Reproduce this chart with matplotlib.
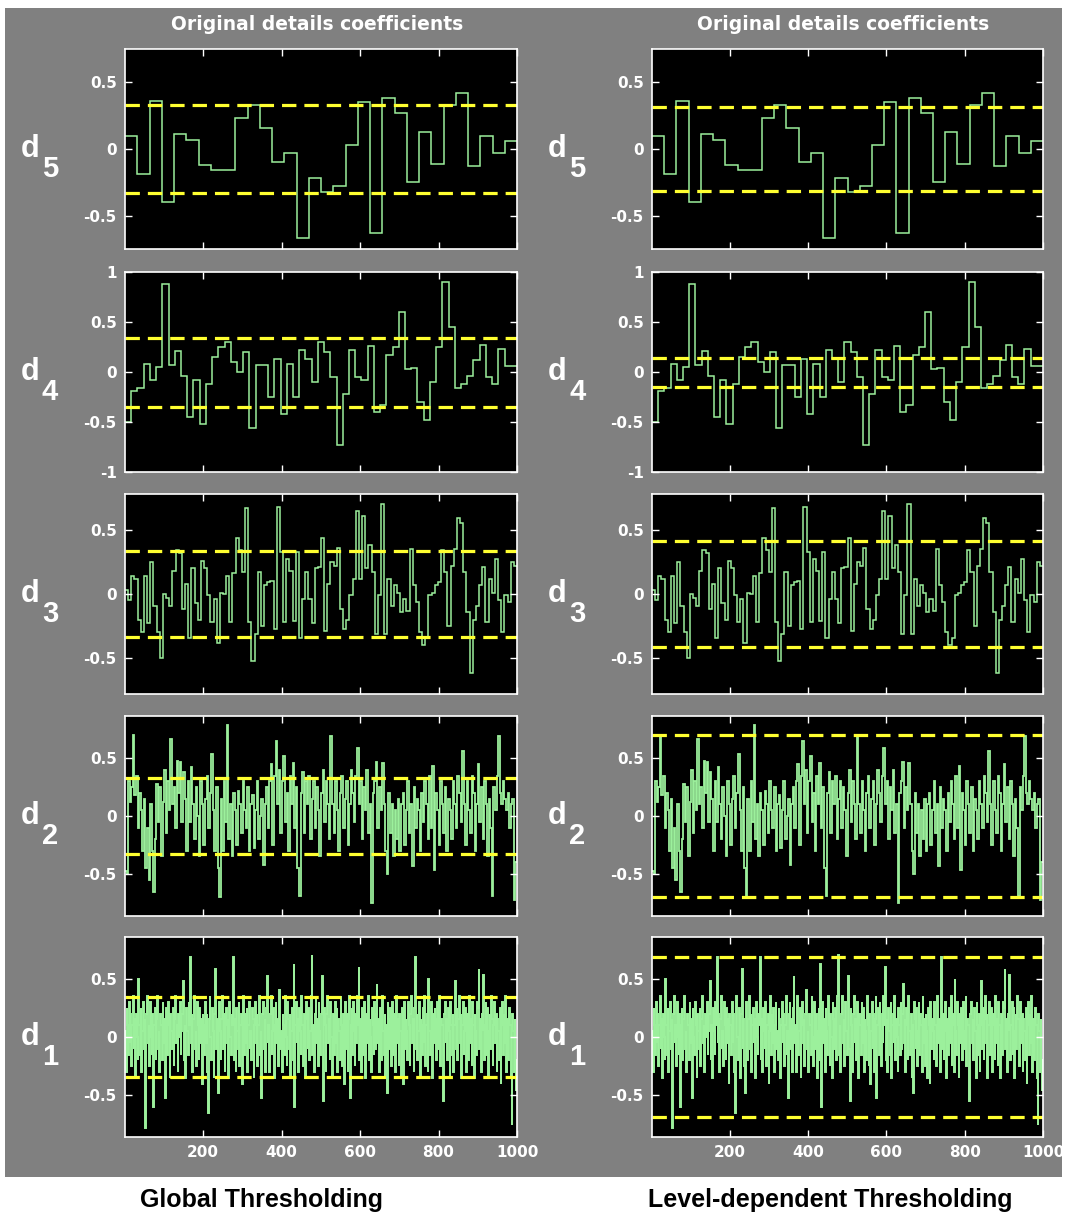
import numpy as np
import matplotlib
matplotlib.use("Agg")
import matplotlib.pyplot as plt
from matplotlib.patches import Rectangle

# detail coefficients (same data in both columns)
d5 = [0.1, -0.19, 0.36, -0.40, 0.11, 0.07, -0.12, -0.16, -0.16, 0.23, 0.33, 0.16,
      -0.1, -0.03, -0.67, -0.22, -0.32, -0.28, 0.03, 0.35, -0.63, 0.38, 0.27, -0.25,
      0.13, -0.11, 0.33, 0.42, -0.13, 0.1, -0.03, 0.06]

d4 = [-0.5, -0.19, -0.16, 0.08, -0.08, 0.05, 0.88, 0.07, 0.21, -0.04, -0.45, -0.08,
      -0.52, -0.12, 0.15, 0.25, 0.3, 0.1, 0.0, 0.2, -0.56, 0.07, 0.07, -0.25, 0.13,
      -0.42, 0.08, -0.25, 0.22, 0.13, -0.1, 0.3, 0.2, -0.05, -0.73, -0.22, 0.22,
      -0.05, -0.08, 0.26, -0.4, -0.33, 0.17, 0.25, 0.6, 0.03, 0.04, -0.3, -0.48,
      -0.1, 0.25, 0.9, 0.45, -0.16, -0.12, -0.04, 0.12, 0.27, -0.05, -0.12, 0.23,
      0.06, 0.06]

d3 = [0.03, -0.05, 0.14, 0.12, -0.2, -0.3, 0.14, -0.23, 0.25, -0.09, -0.3, -0.5,
      0.0, -0.03, -0.09, 0.18, 0.34, 0.32, -0.12, 0.08, -0.34, 0.2, -0.07, -0.2,
      0.26, 0.2, -0.01, -0.22, -0.04, -0.38, 0.01, 0.0, 0.14, -0.22, 0.16, 0.44,
      0.34, 0.17, 0.67, -0.22, -0.52, -0.31, 0.17, -0.25, 0.07, 0.09, 0.1, -0.27,
      0.68, 0.33, -0.22, 0.27, 0.18, -0.21, 0.33, -0.34, -0.04, 0.17, -0.04, -0.23,
      0.2, 0.21, 0.44, -0.29, 0.08, 0.25,
      0.22, 0.36, -0.12, -0.27, -0.2, -0.01, 0.12, 0.65, 0.12, 0.61, 0.2, 0.38,
      0.17, -0.31, -0.01, 0.7, -0.31, 0.12, -0.09, 0.07, 0.01, -0.14, -0.04, -0.13,
      0.35, 0.07, -0.06, -0.3, -0.4, -0.34, -0.01, 0.01, 0.07, 0.09, 0.34, 0.17,
      -0.25, 0.22, 0.35, 0.59, 0.55, 0.17, -0.14, -0.62, -0.2, -0.09, 0.07, 0.21,
      -0.22, 0.12, 0.01, 0.27, -0.05, -0.3, -0.01, -0.06, 0.25, 0.22]

d2 = [-0.48, -0.5, 0.3, 0.12, 0.25, 0.7, 0.18, 0.35, -0.1, 0.2,
      0.05, -0.3, 0.15, -0.45, -0.1, -0.55, 0.1, -0.3, -0.66, -0.2,
      0.28, -0.05, 0.25, -0.35, 0.12, 0.4, -0.15, 0.3, 0.05, 0.67,
      0.1, 0.25, -0.1, 0.48, 0.2, 0.47, -0.05, 0.38, 0.15, -0.3,
      0.3, -0.05, 0.42, 0.1, -0.2, 0.25, 0.0, -0.35, 0.3, 0.1,
      -0.25, 0.15, 0.35, -0.1, 0.2, 0.54, 0.05, -0.3, 0.25, -0.45,
      -0.7, 0.15, -0.3, 0.3, -0.05, 0.79, -0.2, 0.1, -0.35, 0.2,
      0.05, -0.25, 0.22, 0.1, -0.15, 0.3, 0.05, -0.1, 0.25, -0.3,
      0.1, 0.18, -0.28, 0.05, 0.3, -0.2, 0.0, 0.15, -0.42, 0.1,
      0.25, -0.1, 0.3, 0.45, -0.25, 0.35, 0.65, 0.1, 0.4, -0.15,
      0.3, 0.52, -0.05, 0.2, -0.3, 0.35, 0.1, 0.46, -0.1, 0.25,
      -0.45, -0.69, 0.2, 0.38, -0.15, 0.3, 0.1, 0.35, -0.2, 0.15,
      0.3, -0.1, 0.25, 0.05, -0.35, 0.2, 0.4, -0.05, 0.3, 0.1,
      -0.2, 0.69, 0.1, -0.15, 0.3, 0.05, -0.3, 0.2, 0.35, -0.1,
      0.15, 0.3, -0.25, 0.1, 0.4, 0.2, -0.05, 0.35, 0.59, 0.1,
      0.3, -0.2, 0.25, 0.05, 0.4, -0.15, 0.1, -0.75, 0.2, 0.3,
      0.47, -0.1, 0.25, 0.05, 0.46, 0.1, -0.3, -0.5, 0.2, -0.15,
      0.1, -0.35, 0.05, -0.2, 0.15, -0.3, 0.1, 0.2, -0.25, 0.05,
      0.3, -0.15, 0.1, -0.43, 0.25, -0.1, 0.15, 0.05, -0.3, 0.2,
      -0.05, 0.3, 0.1, -0.2, 0.35, -0.1, 0.43, -0.47, 0.2, 0.05,
      -0.25, 0.3, 0.1, -0.15, 0.25, -0.3, 0.15, 0.05, -0.2, 0.3,
      0.1, -0.1, 0.35, 0.2, -0.05, 0.56, 0.1, -0.25, 0.3, 0.05,
      -0.15, 0.35, 0.2, -0.3, 0.1, 0.45, -0.05, 0.25, -0.2, 0.3,
      0.1, -0.35, 0.15, -0.1, -0.69, 0.25, 0.05, 0.35, 0.69, 0.2,
      0.1, 0.3, 0.15, 0.05, 0.2, -0.1, 0.1, 0.15, -0.73, -0.4]

d1 = [0.05, -0.3, 0.25, 0.1, -0.15, 0.3, -0.05, 0.2, -0.25, 0.1, 0.35, -0.1, 0.15, -0.35, 0.2, 0.0, -0.2, 0.5, 0.1, -0.15,
      0.25, -0.3, 0.05, 0.3, -0.1, 0.15, -0.78, 0.2, 0.35, -0.05, 0.1, -0.25, 0.3, 0.0, -0.15, 0.2, -0.6, 0.1, 0.25, -0.2,
      0.15, 0.35, -0.1, 0.05, -0.3, 0.2, 0.1, -0.2, 0.3, -0.05, 0.15, -0.52, 0.25, 0.0, -0.15, 0.3, 0.1, -0.35, 0.2, 0.05,
      -0.1, 0.25, -0.25, 0.15, 0.35, -0.05, 0.1, -0.3, 0.2, 0.0, 0.3, -0.15, 0.05, 0.2, 0.48, -0.2, 0.1, -0.35, 0.25, 0.05,
      -0.15, 0.3, 0.1, 0.68, -0.05, 0.2, -0.3, 0.15, 0.35, -0.1, 0.05, -0.25, 0.3, 0.1, -0.2, 0.25, -0.05, 0.15, -0.4, 0.2,
      0.1, -0.15, 0.3, -0.05, 0.2, -0.3, -0.65, 0.15, 0.35, 0.0, -0.2, 0.25, 0.05, -0.35, 0.2, 0.58, -0.1, 0.15, -0.25, -0.48,
      0.3, 0.05, -0.2, 0.15, 0.35, -0.1, 0.2, -0.3, 0.1, 0.25, -0.05, 0.15, -0.35, 0.3, 0.0, -0.15, 0.2, 0.1, 0.68, -0.2,
      0.15, -0.3, 0.25, 0.05, -0.1, 0.3, -0.25, 0.1, 0.2, -0.4, 0.05, 0.35, -0.15, 0.2, -0.05, 0.25, -0.3, 0.1, 0.3, -0.1,
      0.05, -0.2, 0.25, 0.15, -0.35, 0.1, 0.3, -0.05, 0.2, -0.25, 0.1, 0.35, -0.15, 0.05, -0.52, 0.2, 0.3, -0.1, 0.15, -0.3,
      0.25, 0.52, -0.05, 0.1, -0.3, 0.2, 0.35, -0.15, 0.05, 0.25, -0.35, 0.1, 0.3, -0.05, 0.15, -0.25, 0.2, 0.4, -0.1, 0.05,
      -0.3, 0.2, 0.1, -0.15, 0.35, 0.0, -0.25, 0.3, 0.15, -0.1, 0.2, -0.35, 0.05, 0.25, -0.2, 0.62, -0.6, 0.1, 0.3, -0.05,
      0.15, -0.3, 0.25, 0.05, -0.15, 0.35, 0.1, -0.25, 0.2, 0.0, -0.35, 0.3, 0.15, -0.1, 0.25, -0.2, 0.05, 0.35, 0.7, -0.15,
      0.1, -0.3, 0.2, 0.35, -0.05, 0.15, -0.25, 0.3, 0.05, -0.15, 0.2, 0.52, -0.1, -0.55, 0.25, 0.1, -0.3, 0.2, 0.35, -0.05,
      0.15, -0.2, 0.3, 0.0, -0.35, 0.2, 0.1, -0.15, 0.3, -0.05, 0.25, -0.3, 0.15, 0.05, -0.2, 0.35, 0.1, -0.25, 0.2, -0.4,
      0.05, 0.3, -0.1, 0.2, -0.3, 0.15, 0.35, -0.52, 0.1, 0.25, -0.15, 0.3, 0.05, -0.25, 0.2, -0.05, 0.35, 0.1, 0.6, -0.2,
      0.15, -0.3, 0.25, 0.05, -0.15, 0.3, -0.35, 0.1, 0.2, -0.05, 0.35, -0.2, 0.15, 0.0, -0.3, 0.25, 0.1, -0.15, 0.3, -0.1,
      0.2, 0.45, -0.05, 0.15, -0.3, 0.25, 0.1, -0.2, 0.35, 0.05, -0.15, 0.2, -0.35, 0.1, -0.48, 0.3, 0.15, -0.1, 0.25, -0.25,
      0.05, 0.3, -0.15, 0.2, 0.1, -0.3, 0.35, -0.05, 0.15, -0.25, 0.2, 0.05, -0.35, 0.25, 0.1, -0.4, 0.3, -0.1, 0.15, 0.05,
      -0.2, 0.3, 0.1, -0.25, 0.2, 0.35, -0.05, 0.15, -0.3, 0.25, 0.68, -0.1, 0.2, -0.2, 0.05, 0.3, -0.35, 0.15, 0.1, -0.15,
      0.25, -0.05, 0.35, -0.25, 0.1, 0.2, -0.3, 0.5, 0.05, -0.15, 0.3, 0.1, -0.35, 0.2, -0.05, 0.25, 0.15, -0.2, 0.3, -0.1,
      0.05, 0.35, -0.25, 0.15, 0.1, -0.3, -0.55, 0.2, 0.3, -0.05, 0.15, -0.2, 0.25, 0.05, -0.35, 0.3, 0.1, -0.15, 0.2, -0.3,
      0.1, 0.48, -0.1, 0.25, -0.2, 0.15, 0.35, -0.05, 0.2, -0.35, 0.1, 0.3, -0.15, 0.05, 0.25, -0.3, 0.2, 0.1, -0.2, 0.35,
      -0.05, 0.15, -0.25, 0.3, 0.1, -0.35, 0.2, 0.05, -0.15, 0.3, 0.25, 0.58, -0.1, 0.15, -0.3, 0.2, 0.05, 0.53, -0.2, 0.1,
      0.3, -0.15, 0.25, -0.35, 0.05, 0.2, -0.1, 0.35, 0.15, -0.25, 0.1, 0.3, -0.05, 0.2, -0.3, 0.15, 0.05, -0.2, 0.25, -0.4,
      0.1, 0.3, -0.15, 0.2, -0.05, 0.35, -0.3, 0.15, 0.05, -0.2, 0.25, 0.1, -0.35, -0.75, 0.2, 0.05, -0.3, 0.15, -0.2, -0.45]

levels = ['5', '4', '3', '2', '1']
coefs = [d5, d4, d3, d2, d1]
ylims = [0.75, 1.0, 0.78, 0.865, 0.855]
yticks = [[-0.5, 0, 0.5], [-1, -0.5, 0, 0.5, 1], [-0.5, 0, 0.5], [-0.5, 0, 0.5], [-0.5, 0, 0.5]]
thr_global = [0.33, 0.345, 0.335, 0.33, 0.34]
thr_level = [0.315, 0.145, 0.41, 0.70, 0.68]
xticks = [200, 400, 600, 800, 1000]

col_titles = ['Original details coefficients', 'Original details coefficients']
bottom_titles = ['Global Thresholding', 'Level-dependent Thresholding']

W, H = 1068, 1217
fig = plt.figure(figsize=(W / 100, H / 100), dpi=100, facecolor='white')
fig.patches.append(Rectangle((5 / W, 1 - 1177 / H), 1057 / W, 1169 / H,
                             transform=fig.transFigure, facecolor='#808080',
                             edgecolor='none', zorder=-10))

cols = [(125, 517), (652, 1043)]
row_tops = [49, 272, 494, 716, 937]
row_h = 200
bottom_x = [261, 830]
line_w = [1.1, 1.1, 1.1, 1.3, 1.4]
green = '#9cf09c'
yellow = '#ffff30'

def fmt(v):
    return '0' if v == 0 else ('%g' % v)

for c, (x0, x1) in enumerate(cols):
    thr = thr_global if c == 0 else thr_level
    for r in range(5):
        y0 = row_tops[r]
        ax = fig.add_axes([x0 / W, 1 - (y0 + row_h) / H, (x1 - x0) / W, row_h / H])
        ax.set_facecolor('black')
        vals = np.array(coefs[r])
        edges = np.linspace(1, 1000, len(vals) + 1)
        ax.stairs(vals, edges, color=green, lw=line_w[r], baseline=None)
        for t in (thr[r], -thr[r]):
            ax.axhline(t, color=yellow, lw=2.3, dashes=(4.5, 2.5))
        ax.set_xlim(1, 1000)
        ax.set_ylim(-ylims[r], ylims[r])
        ax.set_xticks(xticks)
        ax.set_yticks(yticks[r])
        ax.set_yticklabels([fmt(v) for v in yticks[r]])
        if r < 4:
            ax.set_xticklabels([])
        ax.tick_params(direction='in', top=True, right=True, length=5, width=1,
                       color='white', labelcolor='white', labelsize=11, pad=6)
        for lab in ax.get_xticklabels() + ax.get_yticklabels():
            lab.set_fontweight('bold')
        for sp in ax.spines.values():
            sp.set_color('white')
            sp.set_linewidth(1.2)
        # level label: big d with a lowered level number
        fig.text((x0 - 104) / W, 1 - (y0 + row_h / 2 + 8) / H, 'd', color='white',
                 fontsize=22, fontweight='bold', family='Liberation Sans',
                 ha='left', va='baseline')
        fig.text((x0 - 83) / W, 1 - (y0 + row_h / 2 + 28) / H, levels[r], color='white',
                 fontsize=21, fontweight='bold', family='Liberation Sans',
                 ha='left', va='baseline')
    fig.text((x0 + x1) / 2 / W - 4 / W, 1 - 25 / H, col_titles[c], color='white',
             fontsize=13.5, fontweight='bold', ha='center', va='center')
    fig.text(bottom_x[c] / W, 1 - 1200 / H, bottom_titles[c],
             color='black', fontsize=18, fontweight='bold', family='Liberation Sans',
             ha='center', va='center')

fig.savefig('out.png', dpi=100, facecolor='white')
